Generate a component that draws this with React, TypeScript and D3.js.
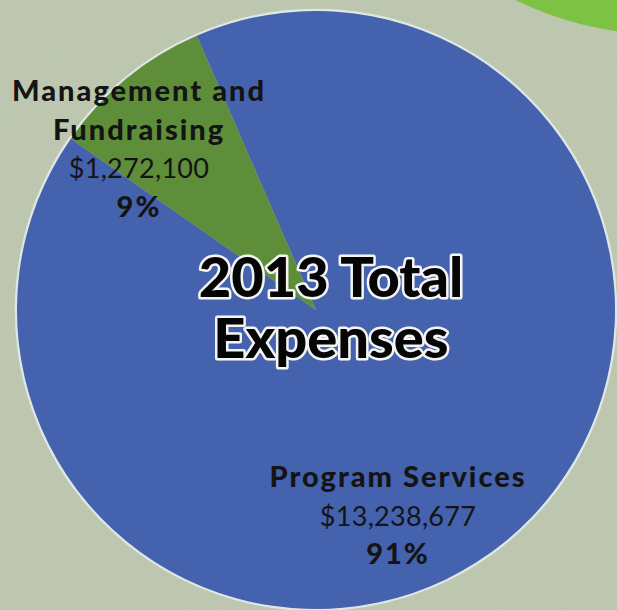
import { useEffect, useRef } from "react";
import * as d3 from "d3";

interface Slice {
  label: string[];
  amount: string;
  pct: string;
  value: number;
}

const categories = ["Program Services", "Management and Fundraising"];
const values = [13238677, 1272100];
const amounts = ["$13,238,677", "$1,272,100"];
const percents = ["91%", "9%"];
const title = ["2013 Total", "Expenses"];

const WIDTH = 617;
const HEIGHT = 610;

const App = () => {
  const svgRef = useRef<SVGSVGElement | null>(null);

  useEffect(() => {
    const svg = d3.select(svgRef.current);
    svg.selectAll("*").remove();
    svg.attr("width", WIDTH).attr("height", HEIGHT);

    const data: Slice[] = categories.map((c, i) => ({
      label: i === 1 ? ["Management and", "Fundraising"] : [c],
      amount: amounts[i],
      pct: percents[i],
      value: values[i],
    }));

    // paper texture
    const defs = svg.append("defs");
    const noise = defs
      .append("filter")
      .attr("id", "paper")
      .attr("x", 0)
      .attr("y", 0)
      .attr("width", "100%")
      .attr("height", "100%");
    noise
      .append("feTurbulence")
      .attr("type", "fractalNoise")
      .attr("baseFrequency", 0.7)
      .attr("numOctaves", 2)
      .attr("seed", 4)
      .attr("result", "n");
    noise
      .append("feColorMatrix")
      .attr("in", "n")
      .attr("type", "matrix")
      .attr("values", "0 0 0 0 0.45  0 0 0 0 0.5  0 0 0 0 0.4  0 0 0 -1.1 0.75")
      .attr("result", "m");
    noise.append("feComposite").attr("in", "m").attr("in2", "SourceGraphic").attr("operator", "in");

    svg.append("rect").attr("width", WIDTH).attr("height", HEIGHT).attr("fill", "#bec7af");
    svg
      .append("rect")
      .attr("width", WIDTH)
      .attr("height", HEIGHT)
      .attr("fill", "#bec7af")
      .attr("filter", "url(#paper)")
      .attr("opacity", 0.35);

    // decorative green disc in the corner
    svg
      .append("circle")
      .attr("cx", 660)
      .attr("cy", -290)
      .attr("r", 324)
      .attr("fill", "#7dc242");

    const cx = 316;
    const cy = 310;
    const radius = 299;
    const start = (-23.5 * Math.PI) / 180;

    const pie = d3
      .pie<Slice>()
      .sort(null)
      .value((d) => d.value)
      .startAngle(start)
      .endAngle(start + 2 * Math.PI);

    const arc = d3.arc<d3.PieArcDatum<Slice>>().innerRadius(0).outerRadius(radius);
    const colors = ["#4562ae", "#5e8e3a"];

    const g = svg.append("g").attr("transform", `translate(${cx},${cy})`);

    g.append("circle")
      .attr("r", radius + 1)
      .attr("fill", "none")
      .attr("stroke", "#dfe6e6")
      .attr("stroke-width", 2.5);

    g.selectAll("path")
      .data(pie(data))
      .join("path")
      .attr("d", arc)
      .attr("fill", (_, i) => colors[i]);

    const font = "Lato, 'Open Sans', sans-serif";

    // slice labels
    const labelPos = [
      { x: 398, y: 487 },
      { x: 139, y: 101 },
    ];
    const lineH = 38.5;

    data.forEach((d, i) => {
      const lines = [
        ...d.label.map((t) => ({ t, bold: true })),
        { t: d.amount, bold: false },
        { t: d.pct, bold: true },
      ];
      const t = svg
        .append("text")
        .attr("text-anchor", "middle")
        .attr("font-family", font)
        .attr("fill", "#141414");
      lines.forEach((l, j) => {
        t.append("tspan")
          .attr("x", labelPos[i].x)
          .attr("y", labelPos[i].y + j * lineH)
          .attr("font-weight", l.bold ? 900 : 400)
          .attr("font-size", l.bold ? 29 : 27)
          .attr("letter-spacing", l.bold ? 2 : 0.3)
          .text(l.t);
      });
    });

    // centre title
    const tt = svg
      .append("text")
      .attr("text-anchor", "middle")
      .attr("font-family", font)
      .attr("font-weight", 900)
      .attr("font-size", 56)
      .attr("fill", "#050505")
      .attr("stroke", "#f4f4f4")
      .attr("stroke-width", 5)
      .attr("stroke-linejoin", "round")
      .style("paint-order", "stroke");
    title.forEach((line, j) => {
      tt.append("tspan")
        .attr("x", 331)
        .attr("y", 297 + j * 61)
        .text(line);
    });
  }, []);

  return (
    <div style={{ position: "absolute", left: 0, top: 0 }}>
      <svg ref={svgRef}></svg>
    </div>
  );
};

export default App;
